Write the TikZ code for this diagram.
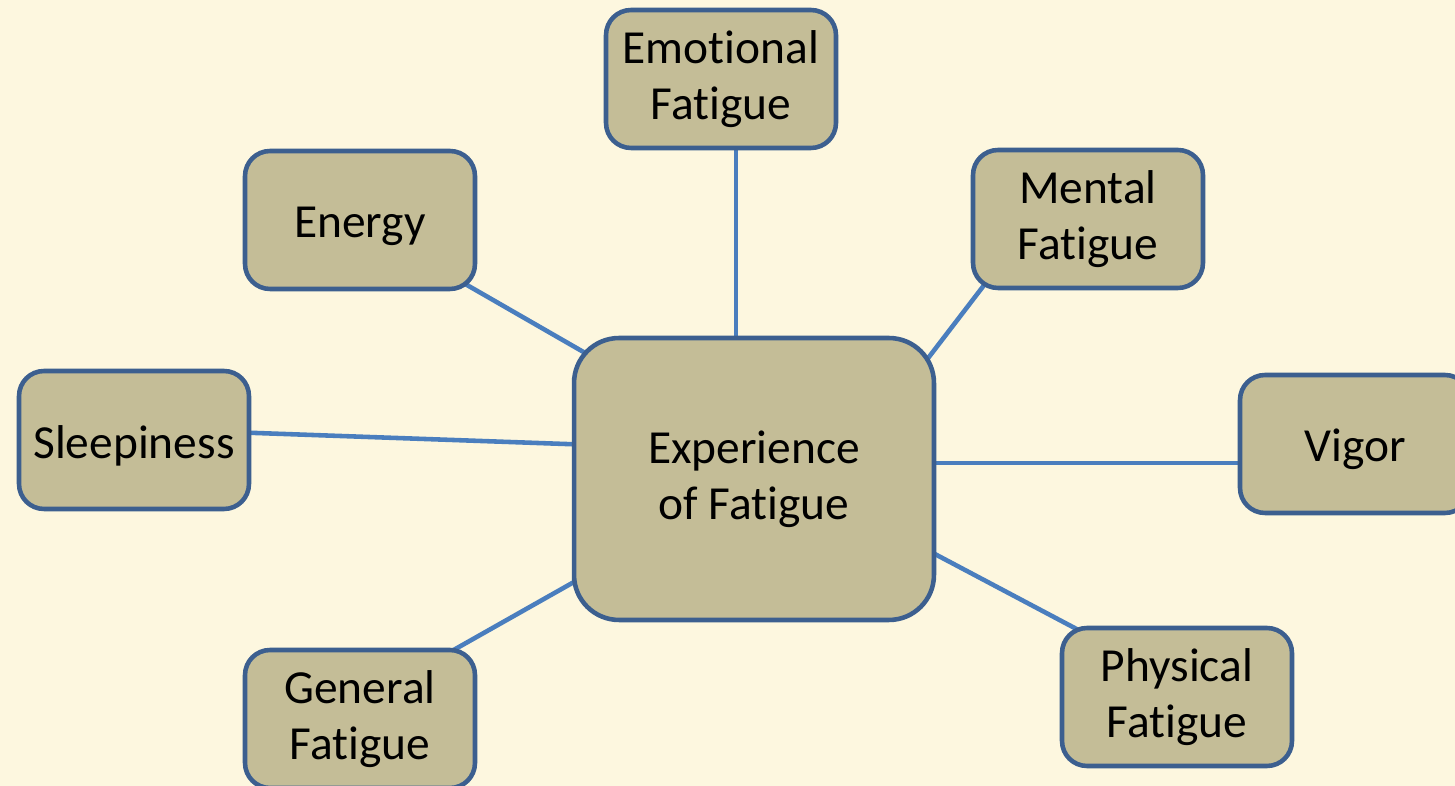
\documentclass[tikz,border=0pt]{standalone}
\usepackage{fontspec}
\setmainfont{Carlito}[Ligatures=NoCommon, RawFeature={-liga;-clig;-dlig;-calt}]
\usetikzlibrary{calc, backgrounds}
\definecolor{paper}{HTML}{FDF7DF}
\definecolor{boxfill}{HTML}{C4BD97}
\definecolor{boxline}{HTML}{3C5F8F}
\definecolor{spoke}{HTML}{4A7EBE}
\tikzset{
  font=\fontsize{27}{32}\selectfont,
  %
  box/.style={
    draw=boxline, line width=2.6pt, fill=boxfill, rounded corners=0.5cm,
    inner sep=0pt, align=center, text=black,
    minimum width=4.6cm, minimum height=2.76cm,
    execute at begin node={\rule{0pt}{25pt}},
  },
  hub/.style={box, rounded corners=0.9cm, minimum width=7.2cm, minimum height=5.64cm},
  %
  link/.style={draw=spoke, line width=2.6pt},
}
\begin{document}
\begin{tikzpicture}[x=0.02cm, y=-0.02cm]

  \useasboundingbox (0,0) rectangle (1455,786);
  \clip (0,0) rectangle (1455,786);

  \node[hub] (ctr) at (754,479) {Experience\\of Fatigue};

  \node[box] (emo)     at (721,79)   {Emotional\\Fatigue};
  \node[box] (energy)  at (360,220)  {Energy};
  \node[box] (mental)  at (1088,219) {Mental\\Fatigue};
  \node[box] (sleep)   at (134,440)  {Sleepiness};
  \node[box] (vigor)   at (1355,444) {Vigor};
  \node[box] (general) at (360,719)  {General\\Fatigue};
  \node[box] (phys)    at (1177,697) {Physical\\Fatigue};

  % spokes run under the boxes
  \begin{scope}[on background layer]
    \fill[paper] (0,0) rectangle (1455,786);
    \draw[link] ($(emo)+(15,41)$)      -- ($(ctr)+(-18,-79)$);
    \draw[link] ($(energy)+(60,38)$)   -- ($(ctr)+(-134,-106)$);
    \draw[link] ($(mental)+(-77,31)$)  -- ($(ctr)+(142,-79)$);
    \draw[link] ($(sleep)+(66,-9)$)    -- ($(ctr)+(-104,-32)$);
    \draw[link] ($(vigor)+(-55,19)$)   -- ($(ctr)+(96,-16)$);
    \draw[link] ($(general)+(60,-50)$) -- ($(ctr)+(-134,77)$);
    \draw[link] ($(phys)+(-57,-45)$)   -- ($(ctr)+(126,46)$);
  \end{scope}

\end{tikzpicture}
\end{document}
